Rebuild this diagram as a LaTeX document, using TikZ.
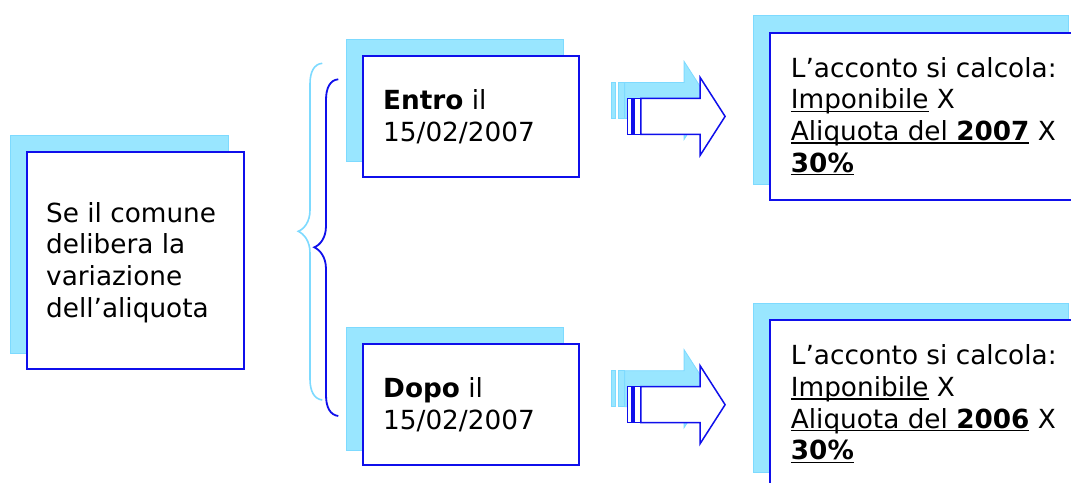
\documentclass[tikz,border=0pt]{standalone}
\usepackage{fontspec}
\setmainfont{DejaVu Sans}
\usetikzlibrary{calc,backgrounds}
\definecolor{shfill}{RGB}{153,230,255}
\definecolor{shdraw}{RGB}{125,218,255}
\definecolor{dkblue}{RGB}{15,15,235}
\newcommand\myul[1]{\setbox0\hbox{#1}\rlap{\rule[-3.2pt]{\wd0}{1.3pt}}\box0\relax}
\tikzset{
  frontbox/.style={draw=dkblue, line width=1.8pt, fill=white, inner sep=0pt, anchor=north west},
  shadowbox/.style={fill=shfill, draw=shdraw, line width=0.8pt},
  boxtext/.style={font=\fontsize{26.3}{31.7}\selectfont, align=left, inner sep=0pt, anchor=west, text=black},
  arrowlight/.style={fill=shfill, draw=shdraw, line width=0.8pt},
  arrowdark/.style={fill=white, draw=dkblue, line width=1.5pt, line join=miter},
  bracelight/.style={draw=shdraw, line width=1.6pt},
  bracedark/.style={draw=dkblue, line width=1.8pt},
  pics/barrow/.style={code={
    \path[#1] (0,-18) rectangle (4.3,18);
    \path[#1] (6.6,-18) rectangle (13.3,18);
    \path[#1] (13.3,-18) -- (72.6,-18) -- (72.6,-39) -- (97.6,0) -- (72.6,39) -- (72.6,18) -- (13.3,18) -- cycle;
  }}
}
\begin{document}
\begin{tikzpicture}[x=1pt,y=-1pt]
\useasboundingbox (0,0) rectangle (1071,482);

% front boxes
\node[frontbox, minimum width=217pt, minimum height=217pt] (b0) at (26,151) {};
\node[frontbox, minimum width=216pt, minimum height=121pt] (b1) at (362,55) {};
\node[frontbox, minimum width=216pt, minimum height=121pt] (b2) at (362,343.3) {};
\node[frontbox, minimum width=314pt, minimum height=167.3pt] (b3) at (769,31.7) {};
\node[frontbox, minimum width=314pt, minimum height=167.3pt] (b4) at (769,319.3) {};

% texts
\node[boxtext] (t0) at ([xshift=20pt,yshift=-2pt]b0.west) {Se il comune\\delibera la\\variazione\\dell’aliquota};
\node[boxtext] (t1) at ([xshift=21pt]b1.west) {\textbf{Entro} il\\15/02/2007};
\node[boxtext] (t2) at ([xshift=21pt]b2.west) {\textbf{Dopo} il\\15/02/2007};
\node[boxtext] (t3) at ([xshift=21.7pt]b3.west) {L’acconto si calcola:\\\myul{Imponibile} X\\\myul{Aliquota del \textbf{2007}} X\\\myul{\textbf{30\%}}};
\node[boxtext] (t4) at ([xshift=21.7pt]b4.west) {L’acconto si calcola:\\\myul{Imponibile} X\\\myul{Aliquota del \textbf{2006}} X\\\myul{\textbf{30\%}}};

% arrows
\coordinate (a1) at ($(b1.east)+(47.7,0)$);
\coordinate (a2) at ($(b2.east)+(47.7,0)$);
\pic at ($(a1)+(-16,-16)$) {barrow=arrowlight};
\pic at (a1) {barrow=arrowdark};
\pic at ($(a2)+(-16,-16)$) {barrow=arrowlight};
\pic at (a2) {barrow=arrowdark};

% braces
\draw[bracelight, shift={(-16pt,16pt)}]
  (338.3,79.3) .. controls (330,80) and (326,88) .. (326,100) -- (326,226)
  .. controls (326,238) and (320,245) .. (314.3,247.3)
  .. controls (320,250) and (326,257) .. (326,269) -- (326,395)
  .. controls (326,407) and (330,415) .. (338.3,416);
\draw[bracedark]
  (338.3,79.3) .. controls (330,80) and (326,88) .. (326,100) -- (326,226)
  .. controls (326,238) and (320,245) .. (314.3,247.3)
  .. controls (320,250) and (326,257) .. (326,269) -- (326,395)
  .. controls (326,407) and (330,415) .. (338.3,416);

% shadows behind
\begin{scope}[on background layer]
  \fill[white] (0,0) rectangle (1071,482);
  \foreach \b in {b0,b1,b2,b3,b4}{
    \path[shadowbox] ($(\b.north west)+(-16,-16)$) rectangle ($(\b.south east)+(-16,-16)$);
  }
\end{scope}
\end{tikzpicture}
\end{document}
